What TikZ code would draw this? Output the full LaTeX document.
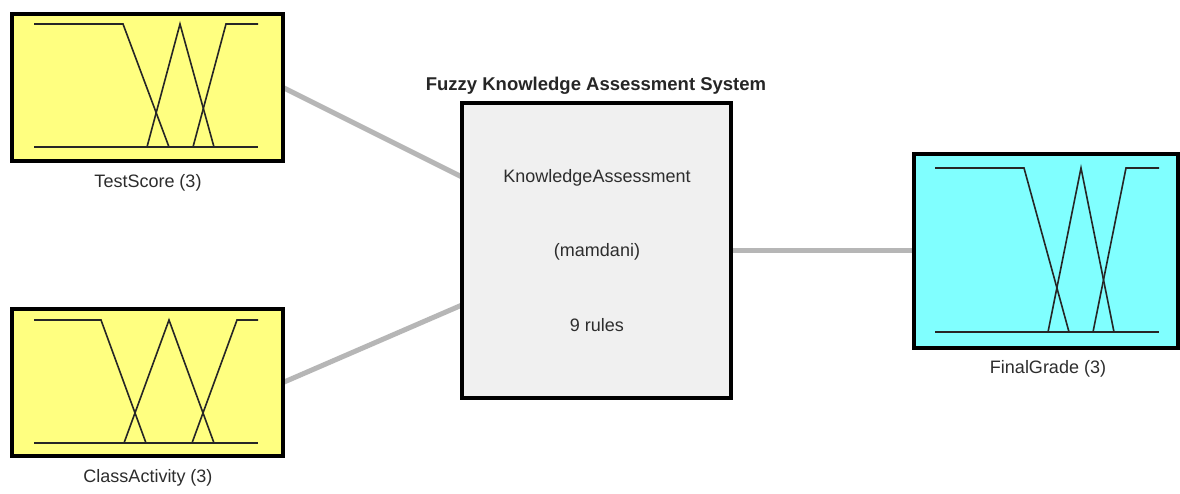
\documentclass[tikz,border=0pt]{standalone}
\usepackage{fontspec}
\setmainfont{Liberation Sans}
\usetikzlibrary{calc,backgrounds}
\definecolor{mfyellow}{RGB}{255,255,128}
\definecolor{mfcyan}{RGB}{128,255,255}
\definecolor{sysgray}{RGB}{240,240,240}
\definecolor{linkgray}{RGB}{182,182,182}
\definecolor{txtgray}{RGB}{45,45,45}
\begin{document}
\begin{tikzpicture}[x=1pt,y=-1pt,
  varbox/.style={draw=black,line width=4pt,inner sep=0pt,outer sep=0pt},
  sysbox/.style={draw=black,line width=4pt,fill=sysgray,inner sep=0pt,outer sep=0pt,minimum width=269pt,minimum height=295pt},
  mfline/.style={draw=black!85,line width=1.6pt,line join=miter},
  link/.style={draw=linkgray,line width=5pt},
  lbl/.style={text=txtgray,font=\fontsize{18}{20}\selectfont,inner sep=0pt},
  ttl/.style={text=black!85,font=\fontsize{18.5}{20}\selectfont\bfseries,inner sep=0pt}]
\useasboundingbox (0,0) rectangle (1180,494);

% boxes
\node[varbox,fill=mfyellow,minimum width=271pt,minimum height=147pt] (ts) at (147.5,87.5) {};
\node[varbox,fill=mfyellow,minimum width=271pt,minimum height=147pt] (ca) at (147.5,382.5) {};
\node[varbox,fill=mfcyan,minimum width=264pt,minimum height=194pt] (fg) at (1046,251) {};
\node[sysbox] (cb) at (596.5,250.5) {};

% connectors
\begin{scope}[on background layer]
\fill[white] (0,0) rectangle (1180,494);
\coordinate (in1) at ($(cb.west)+(0,-73.5)$);
\coordinate (in2) at ($(cb.west)+(0,54.5)$);
\draw[link] (ts.east) -- (in1);
\draw[link] (ca.east) -- (in2);
\draw[link] (cb.east) -- (cb.east -| fg.west);
\end{scope}

% membership functions: TestScore
\draw[mfline] (34,147) -- (258,147);
\draw[mfline] (34,24) -- (123,24) -- (169,147);
\draw[mfline] (147,147) -- (180,24) -- (214,147);
\draw[mfline] (193,147) -- (226,24) -- (258,24);
% ClassActivity
\draw[mfline] (34,443) -- (258,443);
\draw[mfline] (34,320) -- (101,320) -- (146,443);
\draw[mfline] (124,443) -- (169,320) -- (214,443);
\draw[mfline] (192,443) -- (237,320) -- (258,320);
% FinalGrade
\draw[mfline] (935,332) -- (1159,332);
\draw[mfline] (935,168) -- (1024,168) -- (1069,332);
\draw[mfline] (1048,332) -- (1081,168) -- (1114,332);
\draw[mfline] (1093,332) -- (1126,168) -- (1159,168);

% labels
\node[lbl] (tsl) at (148,183) {TestScore (3)};
\node[lbl] (cal) at (148,478) {ClassActivity (3)};
\node[lbl] (fgl) at (1048,369) {FinalGrade (3)};
\node[ttl] (title) at (596,86) {Fuzzy Knowledge Assessment System};
\node[lbl] (t1) at (597,178) {KnowledgeAssessment};
\node[lbl] (t2) at (597,252) {(mamdani)};
\node[lbl] (t3) at (597,325) {9 rules};
\end{tikzpicture}
\end{document}
